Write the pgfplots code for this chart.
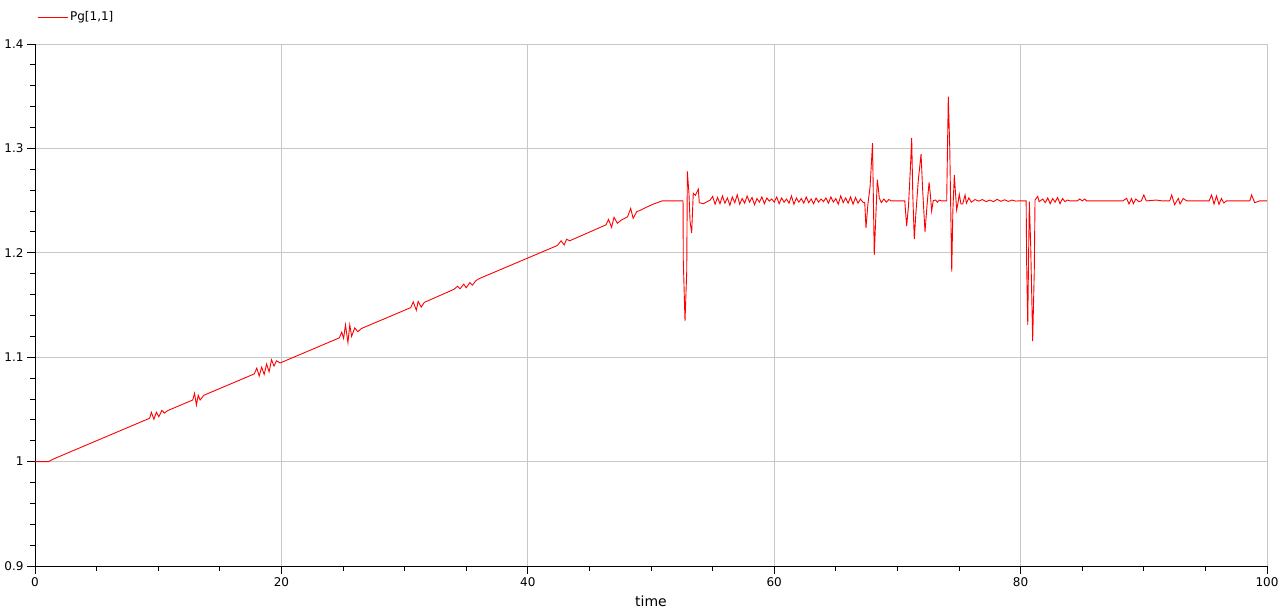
\documentclass[border=0pt]{standalone}
\usepackage{fontspec}
\setmainfont{DejaVu Sans}
\usepackage{pgfplots}
\pgfplotsset{compat=1.18}
\usetikzlibrary{calc}

\begin{document}
\begin{tikzpicture}
\begin{axis}[
  scale only axis,
  width=1232pt, height=522pt,
  xmin=0, xmax=100, ymin=0.9, ymax=1.4,
  xtick={0,20,40,60,80,100},
  ytick={0.9,1,1.1,1.2,1.3,1.4},
  minor x tick num=3, minor y tick num=4,
  axis x line*=bottom, axis y line*=left,
  axis line style={black, line width=0.9pt},
  tick align=outside,
  major tick length=8pt, minor tick length=5pt,
  every tick/.style={black, line width=0.9pt},
  grid=major,
  major grid style={color=black!22, line width=0.8pt},
  /pgf/number format/assume math mode=true,
  tick label style={font=\fontsize{12}{14}\selectfont},
  xlabel={time},
  xlabel style={font=\fontsize{14}{16}\selectfont, at={(axis description cs:0.5,-0.067)}, anchor=center},
  legend style={draw=none, fill=none, at={(axis description cs:0,1)}, anchor=west,
    xshift=2pt, yshift=27pt, inner xsep=0pt, inner ysep=0pt,
    font=\fontsize{12}{14}\selectfont},
  legend cell align=left,
  legend image code/.code={\draw[#1] (0pt,0pt) -- (30pt,0pt);},
]
\coordinate (sw) at (rel axis cs:0,0);
\coordinate (ne) at (rel axis cs:1,1);

\addplot[color=red, line width=0.9pt] coordinates {
(0,1)(1.1,1)(1.6,1.003)(9.3,1.0415)
(9.45,1.0472)(9.65,1.0405)(9.85,1.0473)(10.05,1.043)(10.3,1.049)(10.5,1.0465)(10.8,1.049)
(12.8,1.059)
(12.95,1.0654)(13.1,1.0542)(13.25,1.0636)(13.4,1.059)(13.7,1.0635)
(17.8,1.0840)
(18.0,1.0895)(18.2,1.082)(18.4,1.0905)(18.6,1.0835)(18.8,1.0935)(19.0,1.086)(19.2,1.0975)(19.4,1.0915)(19.6,1.0965)(19.9,1.0945)(20.2,1.096)
(24.7,1.1185)
(24.9,1.124)(25.05,1.118)(25.2,1.131)(25.4,1.114)(25.55,1.131)(25.7,1.120)(25.95,1.128)(26.2,1.1245)(26.5,1.1275)
(30.5,1.1475)
(30.7,1.153)(30.95,1.145)(31.1,1.1535)(31.35,1.148)(31.6,1.1525)
(34.0,1.165)
(34.3,1.168)(34.5,1.1655)(34.8,1.17)(35.0,1.1665)(35.3,1.1715)(35.5,1.169)(35.8,1.1735)(36.1,1.1755)
(42.4,1.207)
(42.7,1.2115)(42.95,1.2075)(43.15,1.213)(43.4,1.2115)
(46.35,1.2268)
(46.55,1.232)(46.8,1.2244)(47.0,1.234)(47.27,1.2283)(47.6,1.2314)
(48.1,1.2345)(48.35,1.2425)(48.55,1.233)(48.85,1.2395)(49.1,1.2405)(49.6,1.2435)(50.2,1.2467)(50.9,1.2497)(52.6,1.2497)
(52.62,1.193)(52.76,1.1347)(52.90,1.182)(52.95,1.278)(53.08,1.257)(53.17,1.230)(53.30,1.219)(53.43,1.257)(53.6,1.255)(53.84,1.261)(53.92,1.248)(54.25,1.247)
(54.8,1.2505)(55.0,1.254)(55.2,1.2465)(55.4,1.253)(55.6,1.247)(55.8,1.2545)(56.0,1.2475)(56.2,1.2525)(56.4,1.2455)(56.6,1.2535)
(56.8,1.248)(57.0,1.2555)(57.2,1.2465)(57.4,1.252)(57.6,1.2475)(57.8,1.2545)(58.0,1.2485)(58.2,1.253)(58.4,1.246)(58.6,1.252)
(58.8,1.2485)(59.0,1.2535)(59.2,1.247)(59.4,1.2525)(59.6,1.2495)(59.8,1.2515)(60.0,1.2485)(60.2,1.2535)(60.4,1.247)(60.6,1.2525)
(60.8,1.2485)(61.0,1.2515)(61.2,1.2475)(61.4,1.2545)(61.6,1.2465)(61.8,1.2525)(62.0,1.2485)(62.2,1.252)(62.4,1.2475)(62.6,1.2535)
(62.8,1.248)(63.0,1.2515)(63.2,1.247)(63.4,1.2525)(63.6,1.2485)(63.8,1.2515)(64.0,1.249)(64.2,1.2525)(64.4,1.2475)(64.6,1.2535)
(64.8,1.2485)(65.0,1.252)(65.2,1.2465)(65.4,1.2545)(65.6,1.248)(65.8,1.2525)(66.0,1.2475)(66.2,1.2535)(66.4,1.2465)(66.6,1.253)
(66.8,1.2475)(67.0,1.2515)(67.2,1.2485)
(67.35,1.248)(67.45,1.2238)(67.6,1.246)(67.78,1.263)(67.88,1.284)(67.98,1.305)(68.12,1.1977)(68.3,1.250)(68.37,1.270)(68.45,1.262)(68.53,1.2525)
(68.7,1.248)(68.9,1.2515)(69.1,1.2485)(69.3,1.251)(69.5,1.2497)(70.6,1.2497)
(70.75,1.2255)(70.9,1.245)(71.05,1.28)(71.16,1.31)(71.25,1.255)(71.37,1.213)(71.5,1.238)(71.7,1.27)(71.92,1.2946)(72.05,1.26)
(72.24,1.220)(72.4,1.245)(72.57,1.2675)(72.68,1.255)(72.78,1.240)(72.91,1.250)
(73.1,1.2505)(73.25,1.2485)(73.4,1.2505)(73.6,1.2497)(74.0,1.2497)
(74.13,1.3495)(74.25,1.30)(74.41,1.182)(74.5,1.24)(74.62,1.2745)(74.7,1.26)(74.81,1.241)(74.92,1.248)(75.02,1.256)(75.16,1.2467)(75.3,1.2467)
(75.49,1.2554)(75.6,1.2475)(75.8,1.2525)(76.0,1.2485)(76.3,1.2510)(76.6,1.2495)(76.9,1.2510)(77.2,1.2490)(77.5,1.2505)(77.8,1.2490)
(78.1,1.2512)(78.4,1.2493)(78.7,1.2508)(79.0,1.2492)(79.3,1.2505)(79.6,1.2495)(79.8,1.2497)(80.45,1.2497)
(80.49,1.1905)(80.58,1.131)(80.65,1.20)(80.71,1.249)(80.82,1.206)(80.90,1.161)(80.98,1.1155)(81.11,1.1835)(81.17,1.2506)(81.39,1.254)
(81.5,1.249)(81.8,1.2515)(82.0,1.2480)(82.2,1.2525)(82.4,1.2470)(82.6,1.2520)(82.8,1.2485)(83.0,1.2530)(83.2,1.2470)(83.4,1.2520)
(83.6,1.2490)(83.8,1.2505)(84.0,1.2497)(84.6,1.2497)(84.8,1.2515)(85.0,1.2497)(85.2,1.2515)(85.35,1.2497)(88.3,1.2497)
(88.6,1.2522)(88.8,1.2467)(89.0,1.252)(89.15,1.247)(89.35,1.2515)(89.6,1.2490)(89.8,1.2497)(90.0,1.2554)(90.2,1.2497)(91.0,1.2505)(91.5,1.2497)
(92.1,1.2497)(92.26,1.2554)(92.5,1.2461)(92.8,1.252)(92.94,1.2467)(93.2,1.252)(93.5,1.2497)
(95.3,1.2497)(95.5,1.2554)(95.7,1.2467)(95.9,1.2544)(96.1,1.2464)(96.3,1.252)(96.5,1.2477)(96.7,1.2497)
(98.6,1.2497)(98.75,1.2554)(99.0,1.248)(99.4,1.2497)(100,1.2497)
};
\addlegendentry{Pg[1,1]}
\end{axis}
\pgfresetboundingbox
\path[use as bounding box] ($(sw)+(-35pt,-45pt)$) rectangle ($(ne)+(13pt,44pt)$);
\end{tikzpicture}
\end{document}
